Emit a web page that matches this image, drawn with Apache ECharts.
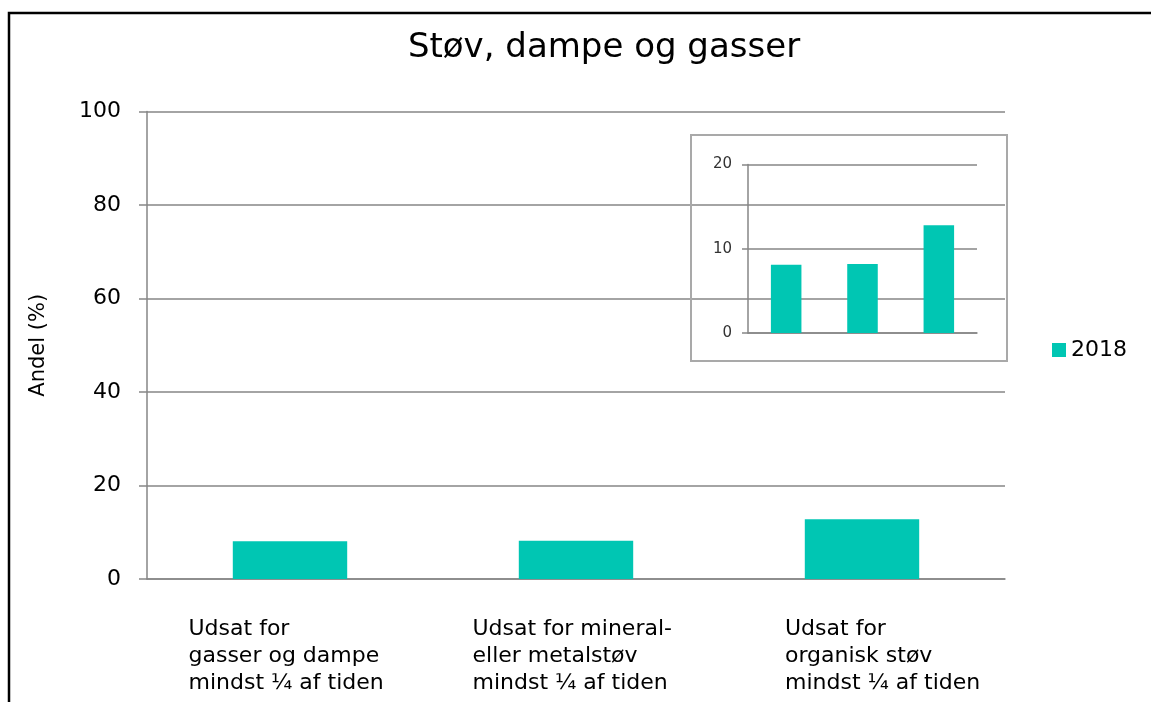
<!DOCTYPE html>
<html>
<head>
<meta charset="utf-8">
<script src="https://cdn.jsdelivr.net/npm/echarts@6/dist/echarts.min.js"></script>
<style>
html,body{margin:0;padding:0;background:#fff;}
#chart{width:1151px;height:702px;}
</style>
</head>
<body>
<div id="chart"></div>
<script>
const titleText = 'Støv, dampe og gasser';
const categories = [
  ['Udsat for', 'gasser og dampe', 'mindst ¼ af tiden'],
  ['Udsat for mineral-', 'eller metalstøv', 'mindst ¼ af tiden'],
  ['Udsat for', 'organisk støv', 'mindst ¼ af tiden']
];
const seriesName = '2018';
const values2018 = [8.1, 8.2, 12.8];
const yTicksMain = [0, 20, 40, 60, 80, 100];
const yTicksInset = [0, 10, 20];
const yAxisName = 'Andel (%)';

const FONT = 'DejaVu Sans';
const BAR = '#00C6B3';
const GRID = '#868686';
const catNames = categories.map(c => c.join('\n'));
const labelWidths = [203, 207, 154];
const LBL = 22;

const chart = echarts.init(document.getElementById('chart'));
chart.setOption({
  animation: false,
  backgroundColor: '#fff',
  textStyle: {fontFamily: FONT},
  title: {
    text: titleText,
    left: 599, top: 26, textAlign: 'center',
    textStyle: {fontFamily: FONT, fontSize: 34, fontWeight: 'normal', color: '#000'}
  },
  legend: {
    data: [seriesName],
    left: 1047, top: 334, icon: 'rect', itemWidth: 14, itemHeight: 14, itemGap: 6,
    textStyle: {fontFamily: FONT, fontSize: LBL, color: '#000', padding: [0, 0, 0, 0]}
  },
  grid: [
    {left: 147, right: 146, top: 111.5, bottom: 123, containLabel: false},
    {left: 748, right: 174, top: 164.5, bottom: 369, containLabel: false}
  ],
  xAxis: [
    {
      type: 'category', gridIndex: 0, data: catNames,
      axisLine: {lineStyle: {color: GRID, width: 1.5}},
      axisTick: {show: false},
      axisLabel: {
        interval: 0, margin: 37, color: '#000', fontFamily: FONT, fontSize: LBL,
        formatter: (v, i) => v.split('\n').map(s => '{a' + i + '|' + s + '}').join('\n'),
        rich: {
          a0: {width: labelWidths[0], align: 'left', fontSize: LBL, lineHeight: 27, fontFamily: FONT, color: '#000'},
          a1: {width: labelWidths[1], align: 'left', fontSize: LBL, lineHeight: 27, fontFamily: FONT, color: '#000'},
          a2: {width: labelWidths[2], align: 'left', fontSize: LBL, lineHeight: 27, fontFamily: FONT, color: '#000'}
        }
      }
    },
    {
      type: 'category', gridIndex: 1, data: catNames,
      axisLine: {lineStyle: {color: GRID, width: 1.5}},
      axisTick: {show: false},
      axisLabel: {show: false}
    }
  ],
  yAxis: [
    {
      type: 'value', gridIndex: 0, min: 0, max: 100, interval: 20,
      name: yAxisName, nameLocation: 'middle', nameGap: 98, nameRotate: 90,
      nameTextStyle: {fontFamily: FONT, fontSize: 21, color: '#000'},
      axisLine: {show: true, lineStyle: {color: GRID, width: 1.5}},
      axisTick: {show: true, inside: false, length: 8, lineStyle: {color: GRID, width: 1.5}},
      splitLine: {lineStyle: {color: GRID, width: 1.5}},
      axisLabel: {margin: 26, color: '#000', fontFamily: FONT, fontSize: LBL,
        formatter: v => yTicksMain.includes(v) ? String(v) : ''}
    },
    {
      type: 'value', gridIndex: 1, min: 0, max: 20, interval: 10,
      axisLine: {show: true, lineStyle: {color: GRID, width: 1.5}},
      axisTick: {show: true, inside: false, length: 6, lineStyle: {color: GRID, width: 1.5}},
      splitLine: {lineStyle: {color: GRID, width: 1.5}},
      axisLabel: {margin: 16, color: '#333', fontFamily: FONT, fontSize: 15,
        formatter: v => yTicksInset.includes(v) ? String(v) : ''}
    }
  ],
  series: [
    {
      name: seriesName, type: 'bar', xAxisIndex: 0, yAxisIndex: 0,
      data: values2018, barWidth: '40%', itemStyle: {color: BAR}
    },
    {
      name: seriesName, type: 'bar', xAxisIndex: 1, yAxisIndex: 1,
      data: values2018, barWidth: '40%', itemStyle: {color: BAR}
    }
  ],
  graphic: [
    {type: 'rect', shape: {x: 9, y: 13, width: 1300, height: 900},
     style: {fill: 'none', stroke: '#000', lineWidth: 2.5}, z: 100},
    {type: 'rect', shape: {x: 691, y: 135, width: 316, height: 226},
     style: {fill: 'none', stroke: '#A9A9A9', lineWidth: 2}, z: 100}
  ]
});
</script>
</body>
</html>
